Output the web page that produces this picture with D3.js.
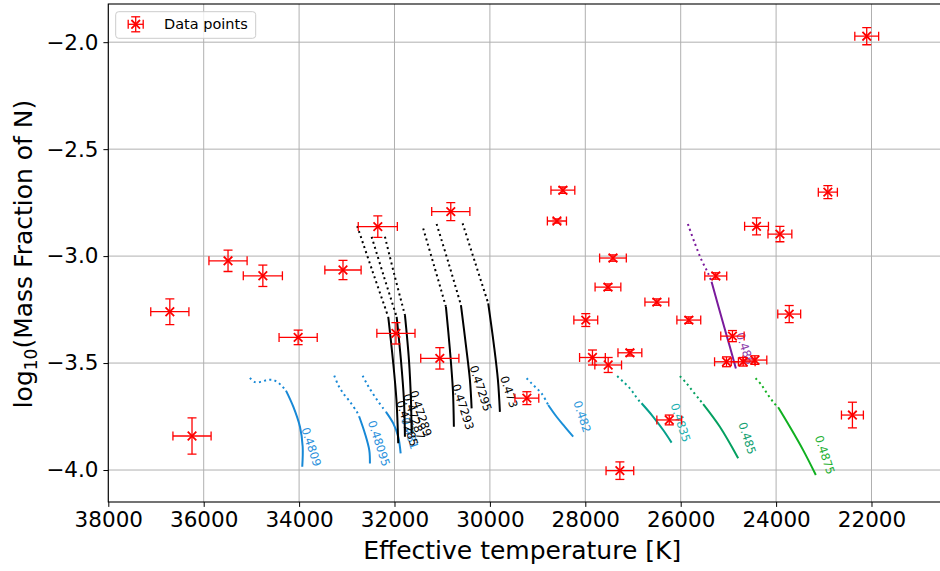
<!DOCTYPE html>
<html>
<head>
<meta charset="utf-8">
<script src="https://cdn.jsdelivr.net/npm/d3@7"></script>
<style>
  body { margin: 0; background: #fff; }
  svg { display: block; font-family: "DejaVu Sans", sans-serif; }
</style>
</head>
<body>
<svg id="chart" width="940" height="571"></svg>
<script>
// observed stars
var tempK   = [22100, 28470, 28595, 22915, 32350, 30820, 24410, 23920, 27420, 35490,
               34760, 33080, 27525, 25265, 26500, 36710, 23725, 25830, 27990, 34020,
               31970, 24915, 31050, 27850, 27065, 27520, 25040, 24690, 24445, 29225,
               22400, 26240, 36245, 27275];
var tempErr = [250, 250, 200, 200, 410, 400, 250, 250, 280, 400,
               410, 380, 270, 230, 250, 400, 240, 250, 250, 400,
               400, 245, 400, 270, 250, 280, 250, 250, 250, 250,
               230, 260, 400, 290];
var logN    = [-1.972, -2.692, -2.836, -2.701, -2.862, -2.792, -2.861, -2.897, -3.009, -3.022,
               -3.092, -3.065, -3.145, -3.093, -3.215, -3.260, -3.271, -3.299, -3.299, -3.380,
               -3.361, -3.374, -3.478, -3.474, -3.452, -3.509, -3.494, -3.494, -3.486, -3.664,
               -3.743, -3.766, -3.841, -4.003];
var logNErr = [0.04, 0.015, 0.01, 0.03, 0.05, 0.042, 0.04, 0.036, 0.015, 0.05,
               0.05, 0.045, 0.015, 0.015, 0.015, 0.06, 0.04, 0.015, 0.03, 0.034,
               0.05, 0.026, 0.05, 0.035, 0.015, 0.035, 0.023, 0.02, 0.02, 0.03,
               0.06, 0.023, 0.085, 0.041];

// model tracks: label, dotted part, solid part  ([Teff, log N])
var trackLabels = ['0.4809', '0.48095', '0.481', '0.482', '0.4835', '0.485', '0.4875', '0.486',
                   '0.47285', '0.47287', '0.47289', '0.47293', '0.47295', '0.473'];
var trackDotted = [
  [[35030, -3.569], [34925, -3.589], [34785, -3.587], [34667, -3.579], [34542, -3.579], [34437, -3.592], [34345, -3.611], [34275, -3.629]],
  [[33263, -3.559], [33179, -3.603], [33074, -3.642], [32934, -3.681], [32781, -3.731], [32739, -3.751]],
  [[32668, -3.559], [32584, -3.595], [32479, -3.634], [32362, -3.673], [32236, -3.712], [32179, -3.728]],
  [[29230, -3.571], [29126, -3.595], [29021, -3.618], [28916, -3.642], [28811, -3.681], [28778, -3.696]],
  [[27331, -3.561], [27206, -3.587], [27065, -3.618], [26960, -3.650], [26855, -3.681], [26820, -3.688]],
  [[26017, -3.561], [25877, -3.595], [25738, -3.634], [25598, -3.673], [25529, -3.692]],
  [[24430, -3.571], [24305, -3.603], [24166, -3.650], [24047, -3.686], [23957, -3.707]],
  [[25849, -2.850], [25702, -2.941], [25562, -3.019], [25424, -3.081], [25353, -3.120]],
  [[32781, -2.860], [32470, -3.065], [32131, -3.284]],
  [[32479, -2.910], [32230, -3.090], [31955, -3.284]],
  [[32200, -2.910], [32000, -3.090], [31781, -3.276]],
  [[31398, -2.871], [31170, -3.045], [30922, -3.237]],
  [[31117, -2.850], [30870, -3.030], [30607, -3.229]],
  [[30572, -2.847], [30310, -3.030], [30035, -3.221]]
];
var trackSolid = [
  [[34275, -3.629], [34122, -3.704], [33982, -3.798], [33925, -3.891], [33934, -3.985]],
  [[32739, -3.751], [32620, -3.829], [32529, -3.907], [32515, -3.969]],
  [[32179, -3.728], [32026, -3.782], [31922, -3.844], [31871, -3.922]],
  [[28778, -3.696], [28602, -3.751], [28428, -3.798], [28254, -3.844]],
  [[26820, -3.688], [26577, -3.751], [26367, -3.813], [26191, -3.872]],
  [[25529, -3.692], [25179, -3.798], [24795, -3.945]],
  [[23957, -3.707], [23712, -3.798], [23433, -3.907], [23167, -4.023]],
  [[25353, -3.120], [25110, -3.314], [24969, -3.424], [24843, -3.525]],
  [[32131, -3.284], [32033, -3.486], [31959, -3.673], [31922, -3.875]],
  [[31955, -3.284], [31865, -3.486], [31802, -3.673], [31781, -3.844]],
  [[31781, -3.276], [31697, -3.486], [31655, -3.673], [31641, -3.829]],
  [[30922, -3.237], [30838, -3.439], [30776, -3.626], [30755, -3.798]],
  [[30607, -3.229], [30503, -3.416], [30419, -3.579], [30383, -3.712]],
  [[30035, -3.221], [29916, -3.416], [29832, -3.579], [29790, -3.728]]
];

var xTicks = [38000, 36000, 34000, 32000, 30000, 28000, 26000, 24000, 22000];
var yTicks = [-2.0, -2.5, -3.0, -3.5, -4.0];

// colours per track
var trackColor = {
  '0.4809': '#1788d6', '0.48095': '#1788d6', '0.481': '#1788d6', '0.482': '#1a8fd8',
  '0.4835': '#05a08c', '0.485': '#04a060', '0.4875': '#10b020', '0.486': '#7a1a9c',
  '0.47285': '#000', '0.47287': '#000', '0.47289': '#000', '0.47293': '#000', '0.47295': '#000', '0.473': '#000'
};
var labelColor = {
  '0.4809': '#2a90dc', '0.48095': '#2a90dc', '0.481': '#2a90dc', '0.482': '#2a98dc',
  '0.4835': '#1ab0b0', '0.485': '#10a070', '0.4875': '#20b030', '0.486': '#8a3aaa'
};

var svg = d3.select('#chart');
var plot = { left: 108.3, top: 4, right: 944, bottom: 502 };

var x = d3.scaleLinear().domain([38000, 20480]).range([plot.left, plot.right]);
var y = d3.scaleLinear().domain([-4.1495, -1.8215]).range([plot.bottom, plot.top]);

svg.append('defs').append('clipPath').attr('id', 'clip')
  .append('rect')
  .attr('x', plot.left).attr('y', plot.top)
  .attr('width', plot.right - plot.left).attr('height', plot.bottom - plot.top);

// grid
var grid = svg.append('g').attr('class', 'grid');
grid.selectAll('line.vx').data(xTicks).enter().append('line')
  .attr('x1', function(d) { return x(d); }).attr('x2', function(d) { return x(d); })
  .attr('y1', plot.top).attr('y2', plot.bottom)
  .attr('stroke', '#b0b0b0').attr('stroke-width', 1);
grid.selectAll('line.hy').data(yTicks).enter().append('line')
  .attr('y1', function(d) { return y(d); }).attr('y2', function(d) { return y(d); })
  .attr('x1', plot.left).attr('x2', plot.right)
  .attr('stroke', '#b0b0b0').attr('stroke-width', 1);

var layer = svg.append('g').attr('clip-path', 'url(#clip)');
var line = d3.line()
  .x(function(d) { return x(d[0]); })
  .y(function(d) { return y(d[1]); })
  .curve(d3.curveCatmullRom);

trackLabels.forEach(function(name, i) {
  var col = trackColor[name];
  layer.append('path').datum(trackDotted[i])
    .attr('d', line).attr('fill', 'none')
    .attr('stroke', col).attr('stroke-width', 2)
    .attr('stroke-dasharray', '2,3.3');
  layer.append('path').datum(trackSolid[i])
    .attr('d', line).attr('fill', 'none')
    .attr('stroke', col).attr('stroke-width', 2);

  var end = trackSolid[i][trackSolid[i].length - 1];
  var ex = x(end[0]) + 9;
  var ey = y(end[1]) - 20;
  layer.append('text')
    .attr('transform', 'translate(' + ex + ',' + ey + ') rotate(72)')
    .attr('text-anchor', 'middle')
    .attr('dominant-baseline', 'central')
    .attr('font-size', 11.5)
    .attr('fill', labelColor[name] || col)
    .text(name);
});

// error bars + markers
var cap = 4.5;
var pts = layer.selectAll('g.pt').data(tempK).enter().append('g')
  .attr('stroke', '#ff0000');
pts.each(function(t, i) {
  var g = d3.select(this);
  var cx = x(t), cy = y(logN[i]);
  var xl = x(t + tempErr[i]), xr = x(t - tempErr[i]);
  var yt = y(logN[i] + logNErr[i]), yb = y(logN[i] - logNErr[i]);
  g.append('line').attr('x1', xl).attr('x2', xr).attr('y1', cy).attr('y2', cy).attr('stroke-width', 1.3);
  g.append('line').attr('x1', xl).attr('x2', xl).attr('y1', cy - cap).attr('y2', cy + cap).attr('stroke-width', 1.3);
  g.append('line').attr('x1', xr).attr('x2', xr).attr('y1', cy - cap).attr('y2', cy + cap).attr('stroke-width', 1.3);
  g.append('line').attr('x1', cx).attr('x2', cx).attr('y1', yt).attr('y2', yb).attr('stroke-width', 1.3);
  g.append('line').attr('x1', cx - cap).attr('x2', cx + cap).attr('y1', yt).attr('y2', yt).attr('stroke-width', 1.3);
  g.append('line').attr('x1', cx - cap).attr('x2', cx + cap).attr('y1', yb).attr('y2', yb).attr('stroke-width', 1.3);
  g.append('path')
    .attr('d', 'M' + (cx - 4.3) + ',' + (cy - 4.3) + 'L' + (cx + 4.3) + ',' + (cy + 4.3) +
               'M' + (cx - 4.3) + ',' + (cy + 4.3) + 'L' + (cx + 4.3) + ',' + (cy - 4.3))
    .attr('stroke-width', 1.8);
});

// axes
var xAxis = d3.axisBottom(x).tickValues(xTicks).tickSize(4.9).tickPadding(5).tickFormat(d3.format('d'));
var yAxis = d3.axisLeft(y).tickValues(yTicks).tickSize(4.9).tickPadding(5)
  .tickFormat(function(d) { return d3.format('.1f')(d).replace('-', '\u2212'); });

var gx = svg.append('g').attr('transform', 'translate(0,' + plot.bottom + ')').call(xAxis);
var gy = svg.append('g').attr('transform', 'translate(' + plot.left + ',0)').call(yAxis);
[gx, gy].forEach(function(g) {
  g.select('.domain').remove();
  g.selectAll('.tick line').attr('stroke', '#000').attr('stroke-width', 1);
  g.selectAll('.tick text').attr('font-size', 21.5).attr('fill', '#000')
    .attr('font-family', '"DejaVu Sans", sans-serif');
});

// spines
svg.append('rect')
  .attr('x', plot.left).attr('y', plot.top)
  .attr('width', plot.right - plot.left).attr('height', plot.bottom - plot.top)
  .attr('fill', 'none').attr('stroke', '#000').attr('stroke-width', 1.1);

// axis labels
svg.append('text')
  .attr('x', (plot.left + 940) / 2 - 2).attr('y', 559)
  .attr('text-anchor', 'middle').attr('font-size', 25)
  .text('Effective temperature [K]');

var yl = svg.append('text')
  .attr('transform', 'translate(32,' + 254 + ') rotate(-90)')
  .attr('text-anchor', 'middle').attr('font-size', 25);
yl.append('tspan').text('log');
yl.append('tspan').attr('font-size', 17).attr('dy', 5).text('10');
yl.append('tspan').attr('dy', -5).text('(Mass Fraction of N)');

// legend
var lg = svg.append('g');
lg.append('rect')
  .attr('x', 115.7).attr('y', 11.7).attr('width', 140).attr('height', 26.6).attr('rx', 3)
  .attr('fill', '#fff').attr('fill-opacity', 0.8).attr('stroke', '#cccccc').attr('stroke-width', 1);
var li = lg.append('g').attr('stroke', '#ff0000');
var lx = 135.7, ly = 24.3;
li.append('line').attr('x1', lx - 7.5).attr('x2', lx + 7.5).attr('y1', ly).attr('y2', ly).attr('stroke-width', 1.3);
li.append('line').attr('x1', lx - 7.5).attr('x2', lx - 7.5).attr('y1', ly - cap).attr('y2', ly + cap).attr('stroke-width', 1.3);
li.append('line').attr('x1', lx + 7.5).attr('x2', lx + 7.5).attr('y1', ly - cap).attr('y2', ly + cap).attr('stroke-width', 1.3);
li.append('line').attr('x1', lx).attr('x2', lx).attr('y1', ly - 7.5).attr('y2', ly + 7.5).attr('stroke-width', 1.3);
li.append('line').attr('x1', lx - cap).attr('x2', lx + cap).attr('y1', ly - 7.5).attr('y2', ly - 7.5).attr('stroke-width', 1.3);
li.append('line').attr('x1', lx - cap).attr('x2', lx + cap).attr('y1', ly + 7.5).attr('y2', ly + 7.5).attr('stroke-width', 1.3);
li.append('path')
  .attr('d', 'M' + (lx - 4.3) + ',' + (ly - 4.3) + 'L' + (lx + 4.3) + ',' + (ly + 4.3) +
             'M' + (lx - 4.3) + ',' + (ly + 4.3) + 'L' + (lx + 4.3) + ',' + (ly - 4.3))
  .attr('stroke-width', 1.8);
lg.append('text').attr('x', 164).attr('y', 29.3).attr('font-size', 14.5).text('Data points');
</script>
</body>
</html>
